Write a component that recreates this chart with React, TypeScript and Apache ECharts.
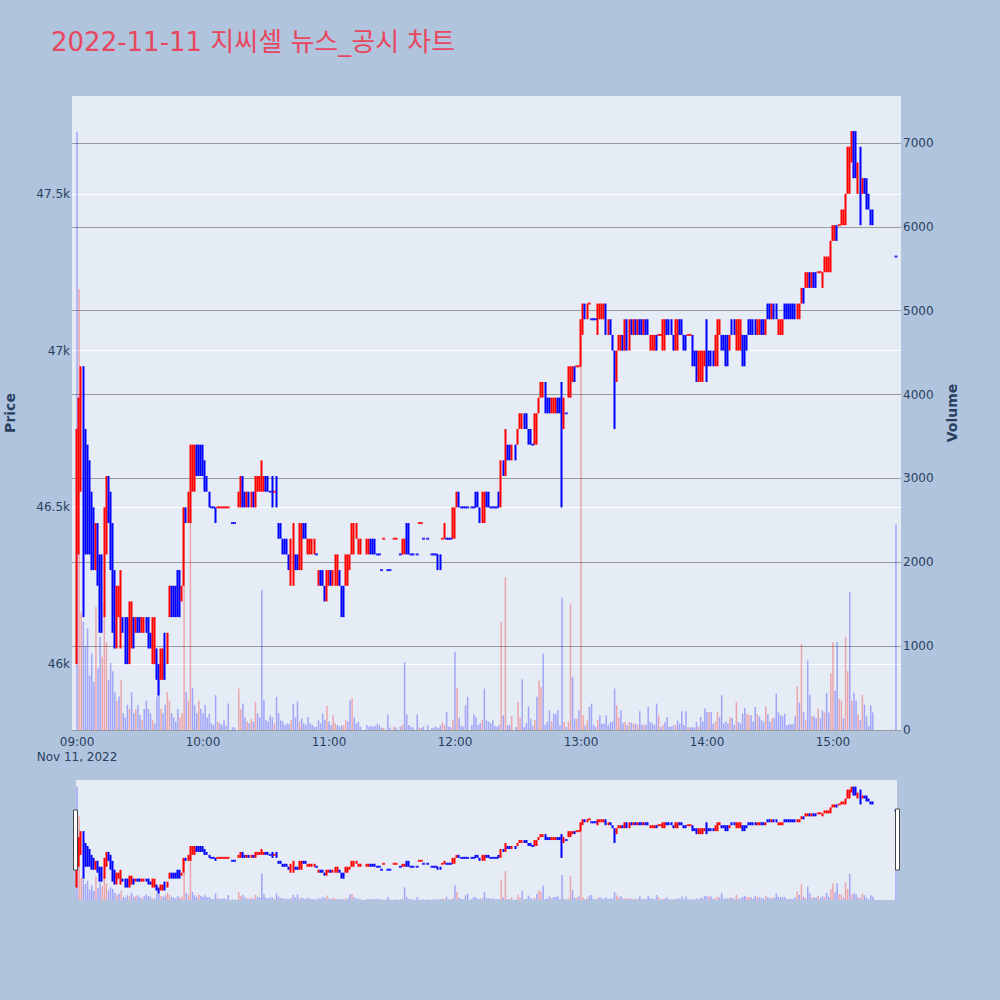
import React, { useEffect, useRef } from 'react';
import * as echarts from 'echarts';

// minutes after 09:00
const minutes = [
  0,1,2,3,4,5,6,7,8,9,
  10,11,12,13,14,15,16,17,18,19,
  20,21,22,23,24,25,26,27,28,29,
  30,31,32,33,34,35,36,37,38,39,
  40,41,42,43,44,45,46,47,48,49,
  50,51,52,53,54,55,56,57,58,59,
  60,61,62,63,64,65,66,67,68,69,
  70,71,72,
  74,75,77,78,79,80,81,82,83,84,
  85,86,87,88,89,90,91,92,93,94,
  95,96,97,98,99,100,101,102,103,104,
  105,106,107,108,109,110,111,112,113,114,
  115,116,117,118,119,120,121,122,123,124,
  125,126,127,128,129,130,131,132,133,134,
  135,
  138,139,140,141,142,143,144,145,146,148,
  149,151,152,154,155,156,157,158,159,160,
  162,163,164,165,167,169,170,171,172,173,
  174,175,176,177,178,179,180,181,182,183,
  184,185,186,188,189,190,191,192,193,194,
  195,196,197,198,199,200,201,202,203,204,
  205,206,207,
  209,210,211,212,213,214,215,216,217,218,
  219,220,221,222,223,224,225,226,227,228,
  229,230,231,232,233,234,235,236,237,238,
  239,240,241,242,243,244,245,246,247,248,
  249,250,251,252,253,254,255,256,257,258,
  259,260,261,262,263,264,265,266,267,268,
  269,270,271,272,273,274,275,276,277,278,
  279,280,281,282,283,284,285,286,287,288,
  289,290,291,292,293,294,295,296,297,298,
  299,300,301,302,303,304,305,306,307,308,
  309,310,311,312,313,314,315,316,317,318,
  319,320,321,322,323,324,325,326,327,328,
  329,330,331,332,333,334,335,336,337,338,
  339,340,341,342,343,344,345,346,347,348,
  349,350,351,352,353,354,355,356,357,358,
  359,360,361,362,363,364,365,366,367,368,
  369,370,371,372,373,374,375,376,377,378,
  379,
  390,
];

const opens = [
  46000,46400,46600,46950,46700,46650,46650,46500,46450,46300,
  46400,46300,46250,46150,46400,46550,46550,46450,46300,46050,
  46150,46100,46150,46150,46100,46000,46050,46150,46100,46150,
  46150,46100,46100,46150,46150,46100,46050,46100,46050,46000,
  45950,46000,46050,46000,46150,46250,46200,46250,46300,46250,
  46200,46250,46500,46450,46450,46600,46600,46700,46700,46650,
  46650,46600,46600,46550,46500,46500,46500,46500,46500,46500,
  46500,46500,46500,
  46450,46450,46500,46550,46600,46550,46500,46550,46500,46550,
  46500,46550,46600,46600,46550,46600,46600,46550,46600,46550,
  46600,46450,46450,46400,46400,46400,46350,46300,46350,46350,
  46350,46300,46350,46450,46450,46350,46350,46350,46350,46350,
  46250,46300,46300,46250,46250,46250,46300,46250,46250,46300,
  46300,46250,46250,46250,46300,46300,46350,46400,46400,46350,
  46350,
  46350,46350,46400,46400,46400,46350,46350,46300,46400,46300,
  46300,46400,46400,46350,46350,46350,46450,46400,46350,46350,
  46350,46450,46450,46400,46400,46350,46350,46350,46350,46350,
  46400,46400,46400,46400,46400,46400,46450,46500,46550,46500,
  46500,46500,46500,46500,46500,46550,46550,46500,46450,46450,
  46550,46550,46500,46500,46500,46500,46550,46500,46650,46650,
  46700,46700,46650,
  46700,46700,46750,46750,46800,46800,46750,46750,46700,46700,
  46750,46800,46850,46850,46900,46850,46850,46800,46800,46800,
  46850,46850,46900,46750,46800,46850,46850,46900,46950,46950,
  46950,46950,47050,47150,47100,47150,47100,47100,47100,47050,
  47100,47100,47100,47150,47050,47100,47050,47000,46950,47000,
  47000,47050,47000,47100,47000,47100,47050,47100,47050,47100,
  47100,47050,47100,47100,47000,47000,47000,47050,47050,47050,
  47000,47000,47100,47100,47100,47050,47000,47000,47100,47100,
  47050,47050,47050,47050,47050,47000,47000,46900,46900,46900,
  46950,47100,47000,47000,47000,46950,47000,47050,47050,47050,
  47050,47050,47000,47100,47100,47050,47000,47050,47050,47000,
  47050,47100,47100,47100,47100,47050,47050,47100,47100,47050,
  47150,47150,47100,47150,47150,47050,47050,47050,47150,47150,
  47150,47150,47150,47150,47100,47100,47150,47200,47200,47200,
  47250,47200,47250,47250,47250,47250,47200,47250,47250,47250,
  47300,47350,47350,47400,47400,47400,47400,47450,47500,47600,
  47600,47700,47650,47500,47650,47500,47550,47550,47500,47450,
  47450,
  47300,
];

const closes = [
  46400,46850,46950,46450,46400,46400,46350,46350,46350,46450,
  46250,46100,46150,46500,46600,46500,46300,46100,46100,46250,
  46200,46250,46100,46000,46000,46200,46150,46100,46150,46100,
  46100,46150,46150,46100,46050,46050,46150,46150,45950,45900,
  46050,46050,46000,46100,46250,46150,46150,46150,46150,46200,
  46250,46500,46450,46500,46700,46700,46700,46600,46650,46600,
  46600,46550,46550,46500,46500,46500,46450,46500,46500,46500,
  46500,46500,46500,
  46450,46450,46550,46600,46550,46500,46550,46500,46550,46500,
  46600,46600,46600,46600,46600,46550,46550,46550,46500,46550,
  46500,46400,46400,46350,46350,46350,46300,46400,46400,46300,
  46300,46450,46400,46400,46400,46400,46400,46400,46400,46350,
  46300,46250,46250,46200,46300,46300,46250,46300,46350,46350,
  46250,46150,46200,46350,46350,46350,46450,46450,46450,46400,
  46400,
  46400,46400,46350,46350,46350,46350,46350,46300,46400,46300,
  46300,46400,46400,46350,46400,46400,46350,46350,46350,46350,
  46350,46450,46450,46400,46400,46350,46350,46350,46300,46300,
  46400,46450,46400,46400,46400,46500,46500,46550,46500,46500,
  46500,46500,46500,46500,46500,46500,46500,46450,46550,46550,
  46500,46500,46500,46500,46500,46500,46500,46650,46600,46700,
  46650,46650,46700,
  46650,46750,46800,46800,46750,46750,46700,46700,46700,46800,
  46800,46850,46900,46900,46800,46800,46800,46850,46850,46850,
  46800,46800,46800,46850,46800,46900,46950,46950,46900,46950,
  46950,47100,47150,47100,47150,47150,47100,47100,47100,47150,
  47150,47150,47150,47100,47100,47050,47000,46900,47000,47050,
  47050,47000,47100,47000,47100,47050,47100,47050,47100,47050,
  47050,47100,47050,47050,47050,47050,47050,47000,47050,47050,
  47100,47100,47050,47050,47050,47000,47100,47100,47050,47050,
  47000,47000,47050,47050,46950,46950,46900,47000,47000,47000,
  47000,46900,46950,46950,46950,47050,47100,47100,47000,47000,
  46950,46950,47050,47050,47050,47100,47100,47100,46950,46950,
  47000,47050,47050,47050,47050,47100,47100,47050,47050,47100,
  47100,47100,47150,47100,47100,47100,47100,47100,47100,47100,
  47100,47100,47100,47100,47150,47150,47200,47150,47250,47250,
  47200,47250,47200,47200,47250,47250,47250,47300,47300,47300,
  47350,47400,47400,47350,47400,47450,47450,47500,47650,47650,
  47700,47600,47550,47600,47400,47550,47500,47450,47450,47400,
  47400,
  47300,
];

const lows = [
  46000,46350,46550,46150,46350,46350,46350,46300,46300,46300,
  46250,46100,46100,46150,46350,46450,46300,46100,46050,46050,
  46150,46050,46100,46000,46000,46000,46050,46050,46100,46100,
  46100,46100,46100,46100,46050,46050,46000,46000,45950,45900,
  45950,45950,45950,46000,46150,46150,46150,46150,46150,46150,
  46200,46250,46450,46450,46450,46550,46550,46600,46600,46600,
  46600,46550,46550,46500,46500,46500,46450,46500,46500,46500,
  46500,46500,46500,
  46450,46450,46500,46500,46500,46500,46500,46500,46500,46500,
  46500,46550,46550,46550,46550,46550,46550,46550,46500,46550,
  46500,46400,46400,46350,46350,46350,46300,46250,46250,46300,
  46300,46300,46300,46400,46400,46350,46350,46350,46350,46350,
  46250,46250,46250,46200,46200,46250,46250,46250,46250,46250,
  46250,46150,46150,46250,46250,46300,46350,46350,46400,46350,
  46350,
  46350,46350,46350,46350,46350,46350,46350,46300,46400,46300,
  46300,46400,46400,46350,46350,46350,46350,46350,46350,46350,
  46350,46450,46450,46400,46400,46350,46350,46350,46300,46300,
  46400,46400,46400,46400,46400,46400,46400,46500,46500,46500,
  46500,46500,46500,46500,46500,46500,46500,46450,46450,46450,
  46500,46500,46500,46500,46500,46500,46500,46500,46600,46600,
  46650,46650,46650,
  46650,46700,46750,46750,46750,46750,46700,46700,46700,46700,
  46700,46800,46850,46850,46800,46800,46800,46800,46800,46800,
  46800,46800,46500,46750,46800,46850,46850,46900,46900,46950,
  46950,46950,47050,47100,47100,47150,47100,47100,47100,47050,
  47100,47100,47100,47050,47050,47050,47000,46750,46900,47000,
  47000,47000,47000,47000,47000,47050,47050,47050,47050,47050,
  47050,47050,47050,47050,47000,47000,47000,47000,47050,47050,
  47000,47000,47050,47050,47050,47000,47000,47000,47050,47050,
  47000,47000,47050,47050,46950,46950,46900,46900,46900,46900,
  46950,46900,46950,46950,46950,46950,46950,47050,47000,47000,
  46950,46950,47000,47050,47050,47000,47000,47000,46950,46950,
  47000,47050,47050,47050,47050,47050,47050,47050,47050,47050,
  47100,47100,47100,47100,47100,47050,47050,47050,47100,47100,
  47100,47100,47100,47100,47100,47100,47150,47150,47200,47200,
  47200,47200,47200,47200,47250,47250,47200,47250,47250,47250,
  47250,47350,47350,47350,47400,47400,47400,47400,47500,47500,
  47600,47550,47550,47500,47400,47500,47500,47450,47450,47400,
  47400,
  47300,
];

const highs = [
  46750,46850,46950,46950,46750,46700,46650,46550,46500,46450,
  46450,46350,46350,46500,46600,46600,46550,46450,46300,46250,
  46250,46300,46150,46150,46150,46200,46200,46150,46150,46150,
  46150,46150,46150,46150,46150,46100,46150,46150,46050,46000,
  46050,46050,46100,46100,46250,46250,46250,46250,46300,46300,
  46250,46500,46500,46550,46700,46700,46700,46700,46700,46700,
  46700,46650,46600,46550,46500,46500,46500,46500,46500,46500,
  46500,46500,46500,
  46450,46450,46550,46600,46600,46550,46550,46550,46550,46550,
  46600,46600,46600,46650,46600,46600,46600,46550,46600,46550,
  46600,46450,46450,46400,46400,46400,46350,46400,46450,46350,
  46350,46450,46450,46450,46450,46400,46400,46400,46400,46350,
  46300,46300,46300,46250,46300,46300,46300,46300,46350,46350,
  46300,46250,46250,46350,46350,46350,46450,46450,46450,46400,
  46400,
  46400,46400,46400,46400,46400,46350,46350,46300,46400,46300,
  46300,46400,46400,46350,46400,46400,46450,46450,46350,46350,
  46350,46450,46450,46400,46400,46350,46350,46350,46350,46350,
  46400,46450,46400,46400,46400,46500,46500,46550,46550,46500,
  46500,46500,46500,46500,46500,46550,46550,46500,46550,46550,
  46550,46550,46500,46500,46500,46500,46550,46650,46650,46750,
  46700,46700,46700,
  46700,46750,46800,46800,46800,46800,46750,46750,46700,46800,
  46800,46850,46900,46900,46900,46850,46850,46850,46850,46850,
  46850,46850,46900,46850,46800,46950,46950,46950,46950,46950,
  46950,47100,47150,47150,47150,47150,47100,47100,47100,47150,
  47150,47150,47150,47150,47100,47100,47050,47000,47000,47050,
  47050,47050,47100,47100,47100,47100,47100,47100,47100,47100,
  47100,47100,47100,47100,47050,47050,47050,47050,47050,47050,
  47100,47100,47100,47100,47100,47050,47100,47100,47100,47100,
  47050,47050,47050,47050,47050,47000,47000,47000,47000,47000,
  47000,47100,47000,47000,47000,47050,47100,47100,47050,47050,
  47050,47050,47050,47100,47100,47100,47100,47100,47050,47050,
  47050,47100,47100,47100,47100,47100,47100,47100,47100,47100,
  47150,47150,47150,47150,47150,47100,47100,47100,47150,47150,
  47150,47150,47150,47150,47150,47150,47200,47200,47250,47250,
  47250,47250,47250,47250,47250,47250,47250,47300,47300,47300,
  47350,47400,47400,47400,47400,47450,47450,47500,47650,47650,
  47700,47700,47700,47600,47650,47550,47550,47550,47500,47450,
  47450,
  47300,
];

const volumes = [
  7130,5260,1400,1290,1000,1210,650,913,574,1471,
  734,1112,873,1500,1050,600,800,700,450,350,
  400,600,200,150,300,250,450,200,250,300,
  180,120,250,350,250,200,120,80,400,630,
  250,200,300,450,350,200,150,100,250,150,
  200,2650,455,350,2630,500,300,200,350,250,
  200,300,150,195,80,60,415,100,80,60,
  115,50,315,
  35,30,495,250,315,150,100,80,135,100,
  335,200,150,1670,355,120,100,175,150,80,
  395,200,115,100,60,80,75,120,315,150,
  340,100,135,80,60,155,80,60,40,40,
  115,80,195,120,287,100,60,175,80,60,
  40,55,55,115,100,355,383,150,80,95,
  40,
  60,40,50,40,50,75,55,30,25,187,
  30,40,30,40,60,805,187,60,40,30,
  187,30,25,40,55,25,30,40,25,50,
  90,60,215,40,30,120,933,500,145,50,
  40,295,395,60,187,155,60,80,120,494,
  115,100,80,115,50,40,60,1292,175,1822,
  55,60,167,
  35,335,150,606,35,80,283,135,50,120,
  395,594,514,913,65,100,235,100,195,195,
  235,55,1580,95,35,100,1510,634,135,135,
  235,4700,175,55,115,275,315,60,35,120,
  175,75,75,175,55,95,100,494,295,150,
  235,80,95,60,95,87,75,75,60,223,
  63,63,60,275,95,80,60,315,175,35,
  60,95,155,35,40,55,60,115,75,223,
  60,223,35,30,35,30,95,40,155,100,
  255,215,215,215,75,100,215,155,415,75,
  100,75,155,143,60,335,95,80,195,263,
  195,175,175,100,275,190,163,117,93,280,
  187,100,140,140,430,210,177,163,196,56,
  70,70,70,163,520,325,1025,210,117,830,
  420,163,163,140,256,140,233,210,443,210,
  676,1050,466,1050,373,350,140,1110,700,1645,
  350,443,350,187,117,420,303,163,47,294,
  210,
  2450,
];

const timeTickValues = [0, 60, 120, 180, 240, 300, 360];
const timeTickLabels = ['09:00', '10:00', '11:00', '12:00', '13:00', '14:00', '15:00'];
const dateLabel = 'Nov 11, 2022';
const priceTicks = [46000, 46500, 47000, 47500];
const priceTickLabels = ['46k', '46.5k', '47k', '47.5k'];
const volumeTicks = [0, 1000, 2000, 3000, 4000, 5000, 6000, 7000];

const TITLE = '2022-11-11 지씨셀 뉴스_공시 차트';
const UP = '#ff0000';
const DOWN = '#0000ff';
const UP_VOL = 'rgba(255,0,0,0.3)';
const DOWN_VOL = 'rgba(0,0,255,0.3)';
const FONT = '"DejaVu Sans", Verdana, "Noto Sans CJK KR", sans-serif';
const TXT = '#2a3f5f';

function candleDirections(): boolean[] {
  const out: boolean[] = [];
  let inc = true;
  let prev: number | null = null;
  for (let i = 0; i < closes.length; i++) {
    const o = opens[i];
    const c = closes[i];
    if (c === o) {
      if (prev !== null && c !== prev) inc = c > prev;
    } else {
      inc = c > o;
    }
    prev = c;
    out.push(inc);
  }
  return out;
}

function buildOption() {
  const dirs = candleDirections();
  const candleData = minutes.map((m, i) => {
    const col = dirs[i] ? UP : DOWN;
    return {
      value: [m, opens[i], closes[i], lows[i], highs[i]],
      itemStyle: {
        color: col, color0: col, borderColor: col, borderColor0: col,
        borderColorDoji: col, borderWidth: 2,
      },
    };
  });
  // single-price minutes (open = high = low = close) drawn as dashes
  const flatData: any[] = [];
  minutes.forEach((m, i) => {
    if (opens[i] === closes[i] && lows[i] === highs[i] && lows[i] === opens[i]) {
      flatData.push({ value: [m, closes[i]], itemStyle: { color: dirs[i] ? UP : DOWN } });
    }
  });
  const volData = minutes.map((m, i) => ({
    value: [m, volumes[i]],
    itemStyle: { color: i > 0 && closes[i] > closes[i - 1] ? UP_VOL : DOWN_VOL },
  }));

  const candleSeries = (xi: number, yi: number) => ({
    type: 'candlestick',
    xAxisIndex: xi,
    yAxisIndex: yi,
    encode: { x: 0, y: [1, 2, 3, 4] },
    barWidth: 1,
    itemStyle: { borderWidth: 2 },
    data: candleData,
    silent: true,
    z: 3,
  });
  const flatSeries = (xi: number, yi: number) => ({
    type: 'scatter',
    xAxisIndex: xi,
    yAxisIndex: yi,
    symbol: 'rect',
    symbolSize: [3, 2],
    data: flatData,
    silent: true,
    z: 3,
  });
  const volSeries = (xi: number, yi: number) => ({
    type: 'bar',
    xAxisIndex: xi,
    yAxisIndex: yi,
    barWidth: 1.5,
    data: volData,
    silent: true,
    z: 2,
  });

  return {
    animation: false,
    backgroundColor: '#B0C4DE',
    textStyle: { fontFamily: FONT },
    title: {
      text: TITLE,
      left: 46,
      top: 24,
      textStyle: { color: '#E8475F', fontSize: 26, fontWeight: 'normal', fontFamily: FONT },
    },
    grid: [
      {
        left: 72, top: 96, width: 829, height: 634, show: true,
        backgroundColor: '#E5ECF6', borderWidth: 0, containLabel: false, outerBoundsMode: 'none',
      },
      {
        left: 76, top: 780, width: 821, height: 120, show: true,
        backgroundColor: '#E5ECF6', borderWidth: 0, containLabel: false, outerBoundsMode: 'none',
      },
    ],
    xAxis: [
      {
        type: 'value', gridIndex: 0, min: -2.4, max: 392.4,
        axisLine: { show: false },
        axisTick: { show: false, customValues: timeTickValues },
        splitLine: { show: false },
        axisLabel: {
          customValues: timeTickValues,
          color: TXT, fontSize: 12, margin: 4, lineHeight: 15, fontFamily: FONT,
          formatter: (v: number) => {
            const idx = timeTickValues.indexOf(v);
            const t = idx >= 0 ? timeTickLabels[idx] : '';
            return idx === 0 ? t + '\n' + dateLabel : t;
          },
        },
      },
      { type: 'value', gridIndex: 1, min: -0.5, max: 390.5, show: false },
    ],
    yAxis: [
      {
        type: 'value', gridIndex: 0, position: 'left', min: 45790, max: 47812,
        name: 'Price', nameLocation: 'middle', nameGap: 55,
        nameTextStyle: { color: TXT, fontSize: 14, fontWeight: 'bold', fontFamily: FONT },
        axisLine: { show: false },
        axisTick: { show: false, customValues: priceTicks },
        splitLine: { show: true, lineStyle: { color: '#ffffff', width: 1 } },
        axisLabel: {
          customValues: priceTicks, color: TXT, fontSize: 12, margin: 2, fontFamily: FONT,
          formatter: (v: number) => {
            const idx = priceTicks.indexOf(v);
            return idx >= 0 ? priceTickLabels[idx] : '';
          },
        },
      },
      {
        type: 'value', gridIndex: 0, position: 'right', min: 0, max: 7560,
        name: 'Volume', nameLocation: 'middle', nameGap: 44,
        nameTextStyle: { color: TXT, fontSize: 14, fontWeight: 'bold', fontFamily: FONT },
        axisLine: { show: false },
        axisTick: { show: false, customValues: volumeTicks },
        splitLine: { show: true, lineStyle: { color: '#9a9a9a', width: 1 } },
        axisLabel: {
          customValues: volumeTicks, color: TXT, fontSize: 12, margin: 2, fontFamily: FONT,
          formatter: (v: number) => String(v),
        },
      },
      { type: 'value', gridIndex: 1, min: 45790, max: 47812, show: false },
      { type: 'value', gridIndex: 1, min: 0, max: 7560, show: false },
    ],
    series: [
      volSeries(0, 1),
      candleSeries(0, 0),
      flatSeries(0, 0),
      volSeries(1, 3),
      candleSeries(1, 2),
      flatSeries(1, 2),
    ],
    graphic: [
      {
        type: 'rect', z: 100,
        shape: { x: 73.5, y: 810, width: 4, height: 60 },
        style: { fill: '#ffffff', stroke: '#444444', lineWidth: 1 },
      },
      {
        type: 'rect', z: 100,
        shape: { x: 895.5, y: 809, width: 4, height: 61 },
        style: { fill: '#ffffff', stroke: '#444444', lineWidth: 1 },
      },
    ],
  };
}

export default function App() {
  const ref = useRef<HTMLDivElement>(null);
  useEffect(() => {
    if (!ref.current) return;
    const chart = echarts.init(ref.current, undefined, { renderer: 'svg' });
    chart.setOption(buildOption() as any);
    return () => chart.dispose();
  }, []);
  return (
    <div
      ref={ref}
      style={{ position: 'fixed', left: 0, top: 0, width: 1000, height: 1000 }}
    />
  );
}
